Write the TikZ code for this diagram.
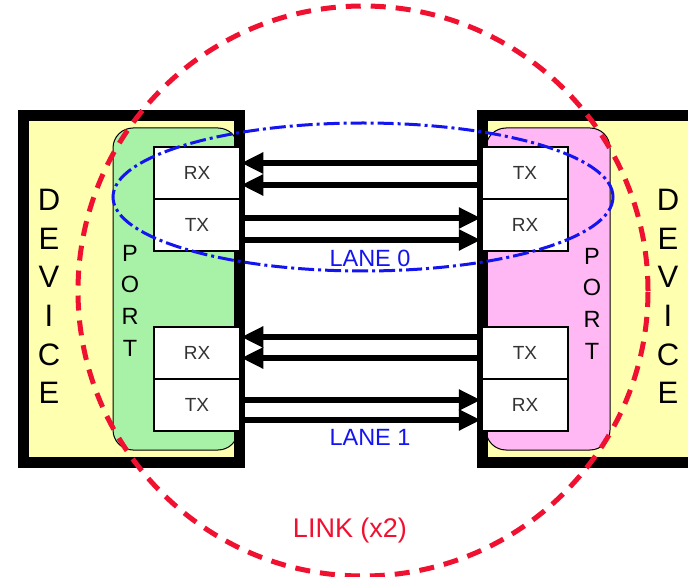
\documentclass[tikz,border=0pt]{standalone}
\usepackage{fontspec}
\setmainfont{Liberation Sans}
\usetikzlibrary{arrows.meta}

\definecolor{devfill}{HTML}{FFFFB0}
\definecolor{portgreen}{HTML}{A8F2A8}
\definecolor{portpink}{HTML}{FFB8F4}
\definecolor{lanecolor}{HTML}{1414F0}
\definecolor{linkcolor}{HTML}{F01030}

\begin{document}
\begin{tikzpicture}[x=1pt,y=-1pt,
    devframe/.style={line width=11pt},
    portshape/.style={draw=black,line width=1pt,rounded corners=20pt},
    xcvr/.style={draw,fill=white,line width=2.5pt,minimum width=86pt,
        minimum height=52pt,font=\fontsize{19}{19}\selectfont,text=black!80},
    wire/.style={line width=6pt,-{Triangle[length=22pt,width=20pt]}},
    devlabel/.style={align=center,font=\fontsize{31}{38.6}\selectfont},
    portlabel/.style={align=center,font=\fontsize{23.5}{31.7}\selectfont},
    lanelabel/.style={text=lanecolor,font=\fontsize{23.5}{23.5}\selectfont}]
    \clip (0,0) rectangle (688,577);
    \useasboundingbox (0,0) rectangle (688,577);

    % devices and ports
    \fill[devfill] (23.5,115.5) rectangle (239.5,462.5);
    \fill[devfill] (482.5,115.5) rectangle (720,462.5);
    \filldraw[portshape,fill=portgreen] (113,128) rectangle (238,450);
    \filldraw[portshape,fill=portpink] (486,128) rectangle (610,450);
    \draw[devframe] (23.5,115.5) rectangle (239.5,462.5);
    \draw[devframe] (482.5,115.5) rectangle (720,462.5);

    % transmitters and receivers
    \node[xcvr] (lrx0) at (197,173) {RX};
    \node[xcvr] (ltx0) at (197,225) {TX};
    \node[xcvr] (lrx1) at (197,353) {RX};
    \node[xcvr] (ltx1) at (197,405) {TX};
    \node[xcvr] (rtx0) at (525,173) {TX};
    \node[xcvr] (rrx0) at (525,225) {RX};
    \node[xcvr] (rtx1) at (525,353) {TX};
    \node[xcvr] (rrx1) at (525,405) {RX};

    % lane 0
    \draw[wire] ([yshift=10pt]rtx0.west) -- ([yshift=10pt]lrx0.east);
    \draw[wire] ([yshift=-12pt]rtx0.west) -- ([yshift=-12pt]lrx0.east);
    \draw[wire] ([yshift=7pt]ltx0.east) -- ([yshift=7pt]rrx0.west);
    \draw[wire] ([yshift=-15pt]ltx0.east) -- ([yshift=-15pt]rrx0.west);
    % lane 1
    \draw[wire] ([yshift=16pt]rtx1.west) -- ([yshift=16pt]lrx1.east);
    \draw[wire] ([yshift=-5pt]rtx1.west) -- ([yshift=-5pt]lrx1.east);
    \draw[wire] ([yshift=5pt]ltx1.east) -- ([yshift=5pt]rrx1.west);
    \draw[wire] ([yshift=-15pt]ltx1.east) -- ([yshift=-15pt]rrx1.west);

    \draw[lanecolor,line width=3pt,dash pattern=on 16pt off 4pt on 3pt off 4pt]
        (363,197) ellipse [x radius=250pt,y radius=74pt];
    \draw[linkcolor,line width=5pt,dash pattern=on 15pt off 10pt]
        (363,291) circle [radius=285pt];

    \node[devlabel] (ldev) at (49,296.5) {D\\E\\V\\I\\C\\E};
    \node[portlabel] (lport) at (130,300.5) {P\\O\\R\\T};
    \node[portlabel] (rport) at (592,303.5) {P\\O\\R\\T};
    \node[devlabel] (rdev) at (668,296.5) {D\\E\\V\\I\\C\\E};
    \node[lanelabel] (lane0) at (370,258) {LANE 0};
    \node[lanelabel] (lane1) at (370,437) {LANE 1};
    \node[text=linkcolor,font=\fontsize{27}{27}\selectfont] (link) at (350,531) {LINK (x2)};
\end{tikzpicture}
\end{document}
